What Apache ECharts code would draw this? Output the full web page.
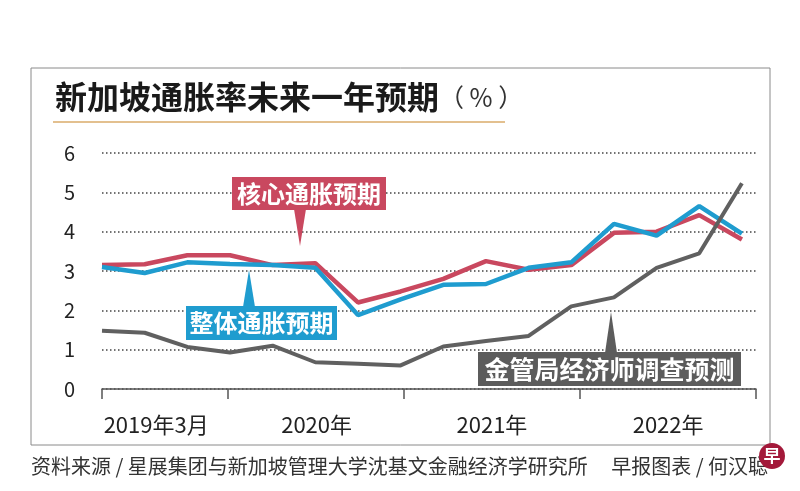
<!DOCTYPE html>
<html>
<head>
<meta charset="utf-8">
<script src="https://cdn.jsdelivr.net/npm/echarts@6/dist/echarts.min.js"></script>
<style>
html,body{margin:0;padding:0;background:#fff;}
#main{width:800px;height:491px;}
</style>
</head>
<body>
<div id="main"></div>
<script>
// Quarterly survey points, 2019 Q1 .. 2022 Q4
const quarters = ['2019Q1','2019Q2','2019Q3','2019Q4','2020Q1','2020Q2','2020Q3','2020Q4',
                  '2021Q1','2021Q2','2021Q3','2021Q4','2022Q1','2022Q2','2022Q3','2022Q4'];
// 核心通胀预期 (core)
const coreExpect = [3.15, 3.17, 3.40, 3.40, 3.15, 3.20, 2.20, 2.48, 2.80, 3.25, 3.03, 3.15, 3.97, 4.00, 4.42, 3.80];
// 整体通胀预期 (headline)
const headlineExpect = [3.10, 2.95, 3.22, 3.18, 3.15, 3.08, 1.88, 2.28, 2.65, 2.67, 3.08, 3.22, 4.20, 3.90, 4.65, 3.95];
// 金管局经济师调查预测 (MAS survey)
const masSurvey = [1.48, 1.43, 1.07, 0.93, 1.10, 0.68, 0.64, 0.60, 1.08, 1.22, 1.35, 2.10, 2.33, 3.08, 3.45, 5.23];

const yTickValues = [0, 1, 2, 3, 4, 5, 6];
const xPeriodLabels = ['2019年3月', '2020年', '2021年', '2022年'];
// period boundaries and label centres, in quarter-index units
const xBoundaries = [0, 2.95, 7.08, 11.2, 15.33];
const xLabelCentres = [1.27, 5.03, 9.14, 13.27];

const toPairs = arr => arr.map((v, i) => [i, v]);

const chart = echarts.init(document.getElementById('main'), null, {renderer: 'canvas'});
const FONT = '"Noto Sans CJK SC", "Noto Sans", sans-serif';

const option = {
  backgroundColor: '#fff',
  animation: false,
  grid: {left: 102, right: 44, top: 153, bottom: 102, containLabel: false},
  xAxis: {
    type: 'value',
    min: 0,
    max: xBoundaries[xBoundaries.length - 1],
    offset: 14,
    splitLine: {show: false},
    axisLine: {show: true, lineStyle: {color: '#555', width: 1.5}},
    axisTick: {show: true, customValues: xBoundaries, length: 10, lineStyle: {color: '#555', width: 1.5}},
    axisLabel: {
      show: true,
      customValues: xLabelCentres,
      margin: 11,
      color: '#222',
      fontSize: 22,
      fontFamily: FONT,
      formatter: function (v) {
        let best = 0;
        xLabelCentres.forEach((c, i) => { if (Math.abs(c - v) < Math.abs(xLabelCentres[best] - v)) best = i; });
        return xPeriodLabels[best];
      }
    }
  },
  yAxis: {
    type: 'value',
    min: yTickValues[0],
    max: yTickValues[yTickValues.length - 1],
    interval: 1,
    axisLine: {show: false},
    axisTick: {show: false},
    axisLabel: {color: '#222', fontSize: 20, fontFamily: FONT, margin: 27},
    splitLine: {show: true, lineStyle: {color: '#444', type: [1.5, 2.5], width: 1.5}}
  },
  series: [
    {
      name: '核心通胀预期', type: 'line', data: toPairs(coreExpect),
      symbol: 'none', lineStyle: {color: '#c9485f', width: 4.5}, z: 3
    },
    {
      name: '整体通胀预期', type: 'line', data: toPairs(headlineExpect),
      symbol: 'none', lineStyle: {color: '#1f9ccf', width: 4.5}, z: 4
    },
    {
      name: '金管局经济师调查预测', type: 'line', data: toPairs(masSurvey),
      symbol: 'none', lineStyle: {color: '#606060', width: 4}, z: 5
    }
  ],
  graphic: [
    {type: 'rect', shape: {x: 31, y: 68, width: 739, height: 377}, style: {fill: 'none', stroke: '#8a8a8a', lineWidth: 1}, silent: true, z: 0},
    {type: 'text', x: 55, y: 97, style: {
      text: '{a|新加坡通胀率未来一年预期}{b|（ % ）}',
      verticalAlign: 'middle',
      rich: {
        a: {fontSize: 32, fontWeight: 'bold', fill: '#1a1a1a', fontFamily: FONT},
        b: {fontSize: 25, fill: '#333', fontFamily: FONT}
      }
    }},
    {type: 'line', shape: {x1: 53, y1: 122, x2: 505, y2: 122}, style: {stroke: '#e3c08f', lineWidth: 2}},
    // 核心通胀预期 label
    {type: 'polygon', shape: {points: [[294, 209], [306, 209], [300, 246]]}, style: {fill: '#c9485f'}, z: 10},
    {type: 'rect', shape: {x: 232, y: 177, width: 154, height: 33}, style: {fill: '#c9485f'}, z: 10},
    {type: 'text', x: 309, y: 194, style: {text: '核心通胀预期', fill: '#fff', fontSize: 24, fontFamily: FONT, fontWeight: 'bold', align: 'center', verticalAlign: 'middle'}, z: 11},
    // 整体通胀预期 label
    {type: 'polygon', shape: {points: [[243, 307], [255, 307], [249, 270]]}, style: {fill: '#1f9ccf'}, z: 10},
    {type: 'rect', shape: {x: 186, y: 306, width: 151, height: 34}, style: {fill: '#1f9ccf'}, z: 10},
    {type: 'text', x: 261.5, y: 323, style: {text: '整体通胀预期', fill: '#fff', fontSize: 24, fontFamily: FONT, fontWeight: 'bold', align: 'center', verticalAlign: 'middle'}, z: 11},
    // 金管局经济师调查预测 label
    {type: 'polygon', shape: {points: [[605, 353], [617, 353], [611, 312]]}, style: {fill: '#5c5c5c'}, z: 10},
    {type: 'rect', shape: {x: 478, y: 352, width: 263, height: 34}, style: {fill: '#5c5c5c'}, z: 10},
    {type: 'text', x: 609.5, y: 369, style: {text: '金管局经济师调查预测', fill: '#fff', fontSize: 25, fontFamily: FONT, fontWeight: 'bold', align: 'center', verticalAlign: 'middle'}, z: 11},
    // footer
    {type: 'text', x: 31, y: 466, style: {text: '资料来源 / 星展集团与新加坡管理大学沈基文金融经济学研究所', fill: '#333', fontSize: 20, fontFamily: FONT, verticalAlign: 'middle'}},
    {type: 'text', x: 768, y: 466, style: {text: '早报图表 / 何汉聪', fill: '#333', fontSize: 20, fontFamily: FONT, align: 'right', verticalAlign: 'middle'}},
    {type: 'circle', shape: {cx: 772, cy: 456, r: 13}, style: {fill: '#a3193a'}, z: 12},
    {type: 'text', x: 772, y: 456, style: {text: '早', fill: '#fff', fontSize: 17, fontWeight: 'bold', fontFamily: FONT, align: 'center', verticalAlign: 'middle'}, z: 13}
  ]
};
chart.setOption(option);
</script>
</body>
</html>
